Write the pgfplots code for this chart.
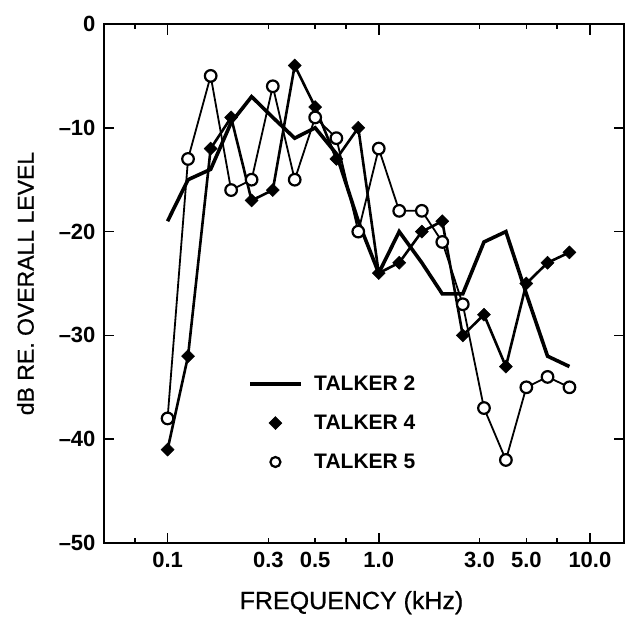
\documentclass[border=0pt]{standalone}
\usepackage{fontspec}
\setmainfont{Liberation Sans}
\newfontfamily\labfont{Liberation Sans}[FakeBold=0.7]
\usepackage{pgfplots}
\usepackage{pgfplotstable}
\pgfplotsset{compat=1.18}
\pgfplotstableread{
f     t2    t4   t5
0.1   -19   -41  -38
0.125 -15   -32  -13
0.16  -14   -12  -5
0.2   -9.5  -9   -16
0.25  -7    -17  -15
0.315 -9    -16  -6
0.4   -11   -4   -15
0.5   -10   -8   -9
0.63  -12.5 -13  -11
0.8   -19   -10  -20
1.0   -24   -24  -12
1.25  -20   -23  -18
1.6   -23   -20  -18
2.0   -26   -19  -21
2.5   -26   -30  -27
3.15  -21   -28  -37
4.0   -20   -33  -42
5.0   -26   -25  -35
6.3   -32   -23  -34
8.0   -33   -22  -35
}\data
\begin{document}
\begin{tikzpicture}
\begin{axis}[name=ax,
  scale only axis, width=520pt, height=519pt,
  xmode=log, xmin=0.05, xmax=14.5, ymin=-50, ymax=0,
  axis line style={line width=2pt},
  tick style={line width=1.6pt, black},
  major tick length=10.5pt, minor tick length=5pt,
  xtick={0.1,1,10}, xticklabels={0.1,1.0,10.0},
  minor xtick={0.07,0.7,7},
  extra x ticks={0.3,0.5,3,5}, extra x tick labels={0.3,0.5,3.0,5.0},
  extra x tick style={major tick length=5pt},
  ytick={-50,-40,-30,-20,-10,0}, yticklabels={--50,--40,--30,--20,--10,0},
  ticklabel style={font=\fontsize{22}{26}\selectfont\bfseries},
  xticklabel style={yshift=-6pt},
  yticklabel style={xshift=-5pt},
  xlabel={FREQUENCY (kHz)}, ylabel={dB RE. OVERALL LEVEL},
  every axis x label/.style={at={(axis description cs:0.476,-0.115)}, anchor=center, font=\fontsize{25}{29}\labfont},
  every axis y label/.style={at={(axis description cs:-0.151,0.5)}, rotate=90, anchor=center, font=\fontsize{23}{27}\labfont},
  legend style={draw=none, fill=none, at={(axis description cs:0.272,0.33)}, anchor=north west,
    font=\fontsize{21}{25}\selectfont\bfseries, row sep=19pt, column sep=9pt},
  legend cell align=left,
  legend image code/.code={\draw[mark repeat=2,mark phase=2,#1] plot coordinates {(0pt,0pt)(25pt,0pt)(51pt,0pt)};},
]
\addplot[black, line width=3.6pt, line join=miter, forget plot] table[x=f,y=t2] {\data};
\addplot[black, line width=2.6pt, mark=square*, mark size=4.6pt, mark options={fill=black, line width=0.5pt, rotate=45}, forget plot] table[x=f,y=t4] {\data};
\addplot[black, line width=1.8pt, mark=*, mark size=5.8pt, mark options={fill=white, line width=2.2pt}, forget plot] table[x=f,y=t5] {\data};
\addlegendimage{black, line width=3.6pt}
\addlegendentry{TALKER 2}
\addlegendimage{black, only marks, mark=square*, mark size=4.6pt, mark options={fill=black, line width=0.5pt, rotate=45}}
\addlegendentry{TALKER 4}
\addlegendimage{black, only marks, mark=*, mark size=5pt, mark options={fill=white, line width=2.2pt}}
\addlegendentry{TALKER 5}
\end{axis}
\path ([shift={(-104pt,-74pt)}]ax.south west) rectangle ([shift={(8pt,24pt)}]ax.north east);
\end{tikzpicture}
\end{document}
